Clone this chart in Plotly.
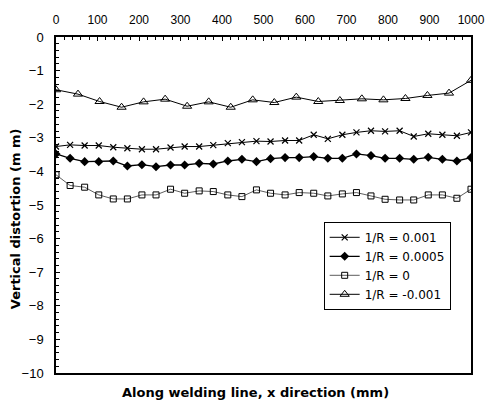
import plotly.graph_objects as go

# Measurement positions along the weld (mm)
x_dense = [0, 34, 69, 103, 138, 172, 207, 241, 276, 310, 345, 379, 414, 448, 483,
           517, 552, 586, 621, 655, 690, 724, 759, 793, 828, 862, 897, 931, 966, 1000]
x_coarse = [0, 53, 105, 158, 211, 263, 316, 368, 421, 474, 526, 579, 632, 684, 737,
            789, 842, 895, 947, 1000]

# Vertical distortion (mm) for each curvature 1/R
d_0001 = [-3.26, -3.21, -3.23, -3.23, -3.28, -3.31, -3.34, -3.34, -3.29, -3.26,
          -3.26, -3.22, -3.16, -3.13, -3.10, -3.11, -3.08, -3.08, -2.91, -3.03,
          -2.91, -2.84, -2.79, -2.81, -2.79, -2.96, -2.88, -2.91, -2.94, -2.84]
d_00005 = [-3.48, -3.61, -3.71, -3.71, -3.69, -3.84, -3.80, -3.86, -3.81, -3.81,
           -3.76, -3.78, -3.69, -3.64, -3.71, -3.62, -3.59, -3.59, -3.56, -3.61,
           -3.61, -3.48, -3.53, -3.61, -3.61, -3.64, -3.58, -3.64, -3.69, -3.59]
d_0 = [-4.10, -4.42, -4.47, -4.70, -4.82, -4.82, -4.70, -4.70, -4.53, -4.65,
       -4.58, -4.60, -4.70, -4.75, -4.55, -4.65, -4.70, -4.63, -4.65, -4.73,
       -4.67, -4.63, -4.73, -4.83, -4.85, -4.85, -4.70, -4.70, -4.80, -4.53]
d_m0001 = [-1.57, -1.70, -1.92, -2.09, -1.93, -1.85, -2.06, -1.93, -2.09, -1.87,
           -1.95, -1.79, -1.92, -1.89, -1.84, -1.87, -1.83, -1.74, -1.67, -1.29]

names = ["1/R = 0.001", "1/R = 0.0005", "1/R = 0", "1/R = -0.001"]

fig = go.Figure()
fig.add_trace(go.Scatter(
    x=x_dense, y=d_0001, name=names[0], mode="lines+markers",
    line=dict(color="black", width=1),
    marker=dict(symbol="x-thin-open", size=6, color="black",
                line=dict(color="black", width=1.2))))
fig.add_trace(go.Scatter(
    x=x_dense, y=d_00005, name=names[1], mode="lines+markers",
    line=dict(color="black", width=1.3),
    marker=dict(symbol="diamond", size=7, color="black")))
fig.add_trace(go.Scatter(
    x=x_dense, y=d_0, name=names[2], mode="lines+markers",
    line=dict(color="#333333", width=0.8),
    marker=dict(symbol="square-open", size=6, color="black",
                line=dict(color="black", width=1))))
fig.add_trace(go.Scatter(
    x=x_coarse, y=d_m0001, name=names[3], mode="lines+markers",
    line=dict(color="black", width=1),
    marker=dict(symbol="triangle-up-open", size=8, color="black",
                line=dict(color="black", width=1))))

font = "Liberation Sans, Arial, sans-serif"
title_font = "DejaVu Sans, sans-serif"

fig.update_layout(
    width=497, height=404,
    margin=dict(l=56, r=14, t=37, b=31),
    paper_bgcolor="white", plot_bgcolor="white",
    font=dict(family=font, size=13, color="black"),
    showlegend=True,
    legend=dict(
        x=0.645, y=0.45, xanchor="left", yanchor="top",
        bgcolor="white", bordercolor="black", borderwidth=1,
        font=dict(family=title_font, size=12, color="black"),
        tracegroupgap=0, itemwidth=30,
    ),
    xaxis=dict(
        side="top", range=[0, 1000], tickmode="linear", tick0=0, dtick=100,
        ticks="inside", ticklen=4, tickcolor="black", ticklabelstandoff=6,
        minor=dict(ticks="inside", dtick=20, ticklen=3, tickcolor="black"),
        showline=True, linecolor="black", linewidth=1.5, mirror=True,
        showgrid=False, zeroline=False,
        tickfont=dict(family=font, size=12),
    ),
    yaxis=dict(
        range=[-10, 0], tickmode="linear", tick0=0, dtick=1,
        ticks="inside", ticklen=4, tickcolor="black", ticklabelstandoff=8,
        minor=dict(ticks="inside", dtick=0.2, ticklen=3, tickcolor="black"),
        showline=True, linecolor="black", linewidth=1.5, mirror=True,
        showgrid=False, zeroline=False,
        tickfont=dict(family=font, size=13),
    ),
    annotations=[
        dict(text="<b>Vertical distortion (m m)</b>", textangle=-90,
             xref="paper", yref="paper", x=-0.097, y=0.46,
             xanchor="center", yanchor="middle", showarrow=False,
             font=dict(family=title_font, size=13)),
        dict(text="<b>Along welding line, x direction (mm)</b>",
             xref="paper", yref="paper", x=0.48, y=-0.058,
             xanchor="center", yanchor="middle", showarrow=False,
             font=dict(family=title_font, size=13)),
    ],
)

fig.write_html("out.html")
